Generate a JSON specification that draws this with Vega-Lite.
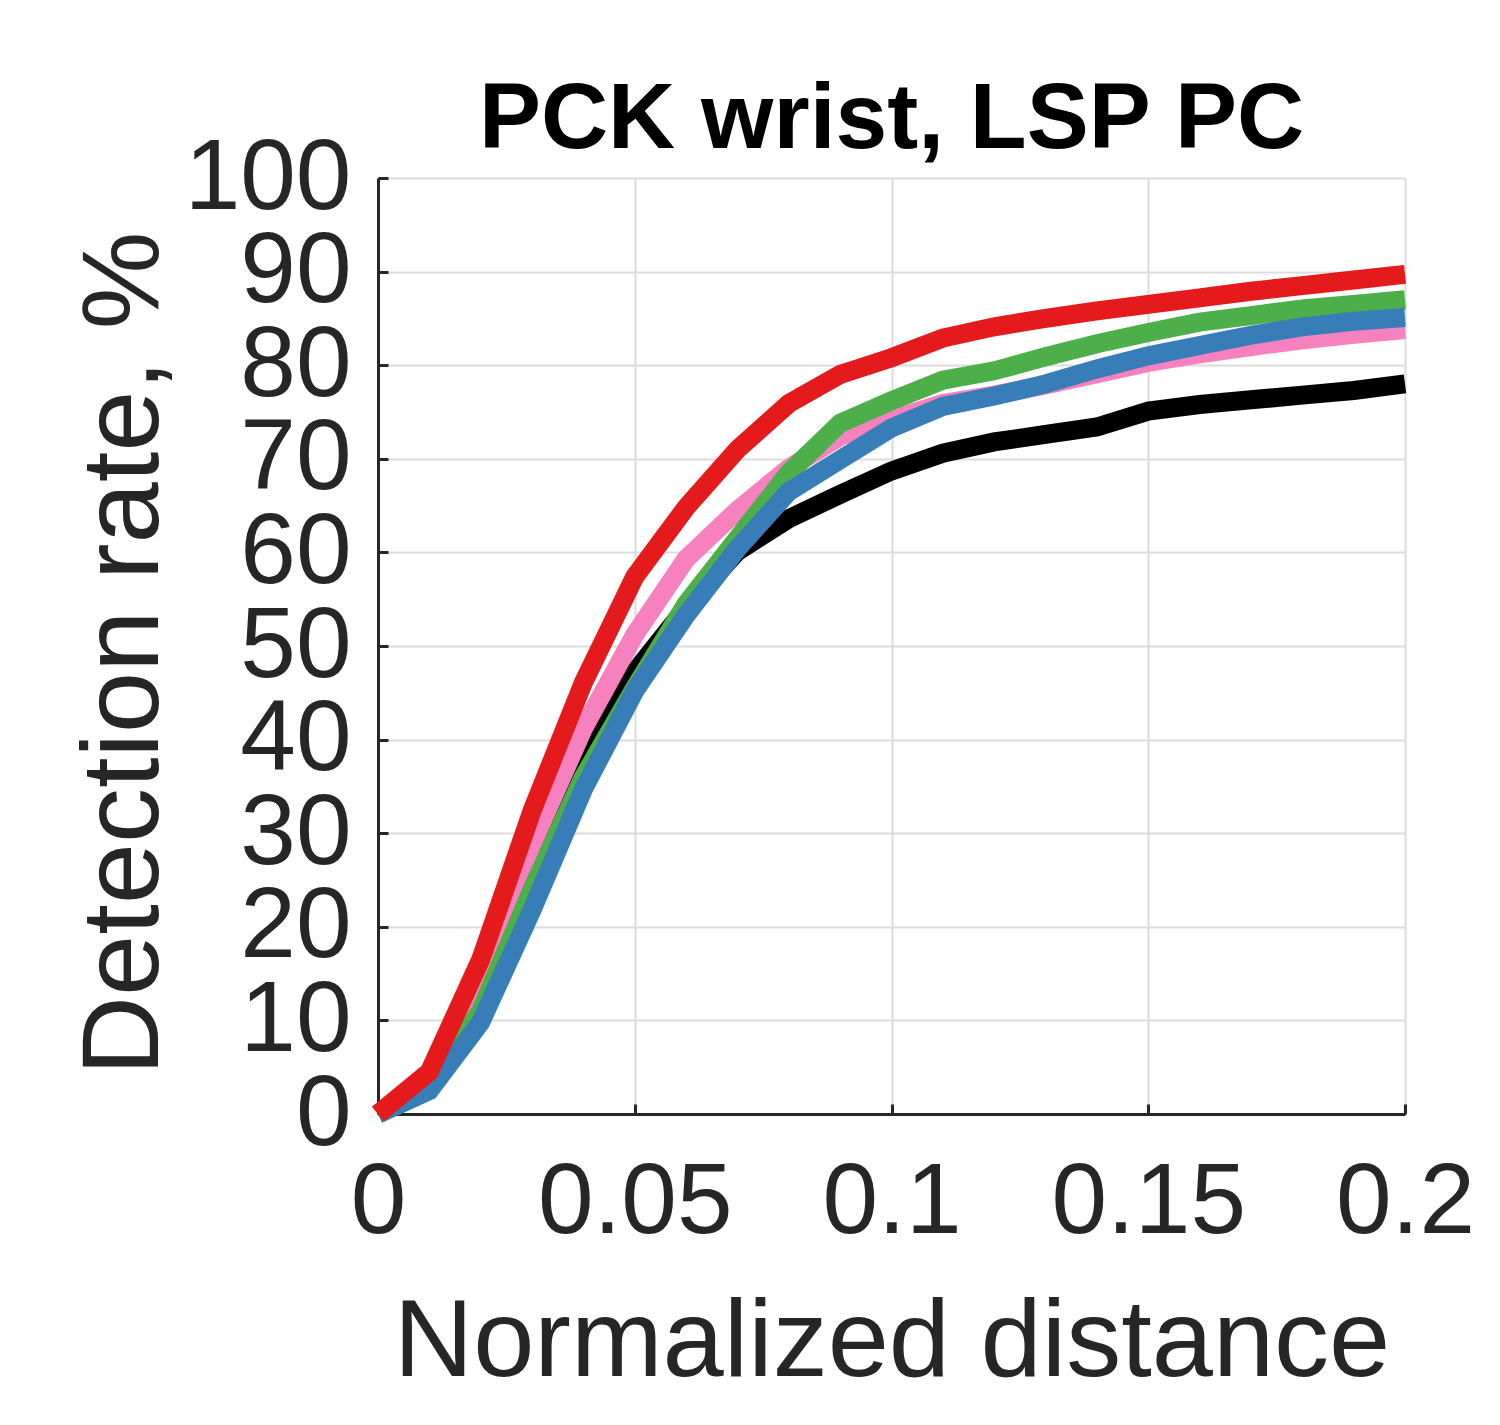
{
  "$schema": "https://vega.github.io/schema/vega-lite/v6.json",
  "autosize": {"type": "none"},
  "padding": {"left": 378, "top": 178, "right": 95, "bottom": 311},
  "width": 1027,
  "height": 936,
  "background": "white",
  "config": {
    "view": {"stroke": null},
    "font": "Liberation Sans"
  },
  "title": {
    "text": "PCK wrist, LSP PC",
    "font": "Liberation Sans",
    "fontSize": 93,
    "fontWeight": "bold",
    "color": "#000000",
    "anchor": "middle",
    "frame": "group",
    "baseline": "alphabetic",
    "offset": 30,
    "dy": 143
  },
  "data": {
    "values": [
      {"s": "black", "x": 0, "y": 0}, {"s": "black", "x": 0.01, "y": 3.5}, {"s": "black", "x": 0.02, "y": 13.0},
      {"s": "black", "x": 0.03, "y": 26.0}, {"s": "black", "x": 0.04, "y": 38.2}, {"s": "black", "x": 0.05, "y": 47.2},
      {"s": "black", "x": 0.06, "y": 54.1}, {"s": "black", "x": 0.07, "y": 60.1}, {"s": "black", "x": 0.08, "y": 63.6},
      {"s": "black", "x": 0.09, "y": 66.2}, {"s": "black", "x": 0.1, "y": 68.7}, {"s": "black", "x": 0.11, "y": 70.6},
      {"s": "black", "x": 0.12, "y": 71.8}, {"s": "black", "x": 0.13, "y": 72.6}, {"s": "black", "x": 0.14, "y": 73.4},
      {"s": "black", "x": 0.15, "y": 75.1}, {"s": "black", "x": 0.16, "y": 75.8}, {"s": "black", "x": 0.17, "y": 76.3},
      {"s": "black", "x": 0.18, "y": 76.8}, {"s": "black", "x": 0.19, "y": 77.3}, {"s": "black", "x": 0.2, "y": 78.0},

      {"s": "pink", "x": 0, "y": 0}, {"s": "pink", "x": 0.01, "y": 4.2}, {"s": "pink", "x": 0.02, "y": 14.6},
      {"s": "pink", "x": 0.03, "y": 28.8}, {"s": "pink", "x": 0.04, "y": 41.2}, {"s": "pink", "x": 0.05, "y": 51.2},
      {"s": "pink", "x": 0.06, "y": 59.3}, {"s": "pink", "x": 0.07, "y": 64.5}, {"s": "pink", "x": 0.08, "y": 69.0},
      {"s": "pink", "x": 0.09, "y": 72.4}, {"s": "pink", "x": 0.1, "y": 74.2}, {"s": "pink", "x": 0.11, "y": 75.9},
      {"s": "pink", "x": 0.12, "y": 76.8}, {"s": "pink", "x": 0.13, "y": 77.9}, {"s": "pink", "x": 0.14, "y": 79.1},
      {"s": "pink", "x": 0.15, "y": 80.3}, {"s": "pink", "x": 0.16, "y": 81.2}, {"s": "pink", "x": 0.17, "y": 82.0},
      {"s": "pink", "x": 0.18, "y": 82.7}, {"s": "pink", "x": 0.19, "y": 83.3}, {"s": "pink", "x": 0.2, "y": 83.8},

      {"s": "green", "x": 0, "y": 0}, {"s": "green", "x": 0.01, "y": 3.2}, {"s": "green", "x": 0.02, "y": 11.0},
      {"s": "green", "x": 0.03, "y": 24.0}, {"s": "green", "x": 0.04, "y": 36.0}, {"s": "green", "x": 0.05, "y": 45.5},
      {"s": "green", "x": 0.06, "y": 54.5}, {"s": "green", "x": 0.07, "y": 61.5}, {"s": "green", "x": 0.08, "y": 68.5},
      {"s": "green", "x": 0.09, "y": 73.8}, {"s": "green", "x": 0.1, "y": 76.2}, {"s": "green", "x": 0.11, "y": 78.4},
      {"s": "green", "x": 0.12, "y": 79.4}, {"s": "green", "x": 0.13, "y": 80.9}, {"s": "green", "x": 0.14, "y": 82.3},
      {"s": "green", "x": 0.15, "y": 83.5}, {"s": "green", "x": 0.16, "y": 84.6}, {"s": "green", "x": 0.17, "y": 85.3},
      {"s": "green", "x": 0.18, "y": 86.0}, {"s": "green", "x": 0.19, "y": 86.5}, {"s": "green", "x": 0.2, "y": 87.0},

      {"s": "blue", "x": 0, "y": 0}, {"s": "blue", "x": 0.01, "y": 2.5}, {"s": "blue", "x": 0.02, "y": 9.8},
      {"s": "blue", "x": 0.03, "y": 21.8}, {"s": "blue", "x": 0.04, "y": 34.7}, {"s": "blue", "x": 0.05, "y": 45.2},
      {"s": "blue", "x": 0.06, "y": 53.3}, {"s": "blue", "x": 0.07, "y": 60.4}, {"s": "blue", "x": 0.08, "y": 66.5},
      {"s": "blue", "x": 0.09, "y": 69.9}, {"s": "blue", "x": 0.1, "y": 73.3}, {"s": "blue", "x": 0.11, "y": 75.6},
      {"s": "blue", "x": 0.12, "y": 76.7}, {"s": "blue", "x": 0.13, "y": 78.0}, {"s": "blue", "x": 0.14, "y": 79.6},
      {"s": "blue", "x": 0.15, "y": 81.0}, {"s": "blue", "x": 0.16, "y": 82.1}, {"s": "blue", "x": 0.17, "y": 83.2},
      {"s": "blue", "x": 0.18, "y": 84.1}, {"s": "blue", "x": 0.19, "y": 84.7}, {"s": "blue", "x": 0.2, "y": 85.1},

      {"s": "red", "x": 0, "y": 0}, {"s": "red", "x": 0.01, "y": 4.5}, {"s": "red", "x": 0.02, "y": 16.5},
      {"s": "red", "x": 0.03, "y": 32.4}, {"s": "red", "x": 0.04, "y": 46.1}, {"s": "red", "x": 0.05, "y": 57.4},
      {"s": "red", "x": 0.06, "y": 64.8}, {"s": "red", "x": 0.07, "y": 71.0}, {"s": "red", "x": 0.08, "y": 75.9},
      {"s": "red", "x": 0.09, "y": 79.0}, {"s": "red", "x": 0.1, "y": 80.8}, {"s": "red", "x": 0.11, "y": 82.9},
      {"s": "red", "x": 0.12, "y": 84.1}, {"s": "red", "x": 0.13, "y": 85.0}, {"s": "red", "x": 0.14, "y": 85.8},
      {"s": "red", "x": 0.15, "y": 86.5}, {"s": "red", "x": 0.16, "y": 87.2}, {"s": "red", "x": 0.17, "y": 87.9},
      {"s": "red", "x": 0.18, "y": 88.5}, {"s": "red", "x": 0.19, "y": 89.1}, {"s": "red", "x": 0.2, "y": 89.7}
    ]
  },
  "encoding": {
    "x": {
      "field": "x",
      "type": "quantitative",
      "scale": {"domain": [0, 0.2], "nice": false},
      "axis": {
        "title": "Normalized distance",
        "values": [0, 0.05, 0.1, 0.15, 0.2],
        "format": "~g",
        "grid": true,
        "gridColor": "#dcdcdc",
        "gridWidth": 2,
        "domainColor": "#262626",
        "domainWidth": 3,
        "tickColor": "#262626",
        "tickWidth": 3,
        "tickSize": -10,
        "labelFont": "Liberation Sans",
        "labelFontSize": 100,
        "labelColor": "#262626",
        "labelPadding": 49,
        "labelLimit": 0,
        "labelFlush": false,
        "labelOverlap": false,
        "titleFont": "Liberation Sans",
        "titleFontSize": 110,
        "titleFontWeight": "normal",
        "titleColor": "#262626",
        "titleBaseline": "alphabetic",
        "titleY": 261
      }
    },
    "y": {
      "field": "y",
      "type": "quantitative",
      "scale": {"domain": [0, 100], "nice": false},
      "axis": {
        "title": "Detection rate, %",
        "values": [0, 10, 20, 30, 40, 50, 60, 70, 80, 90, 100],
        "format": "d",
        "grid": true,
        "gridColor": "#dcdcdc",
        "gridWidth": 2,
        "domainColor": "#262626",
        "domainWidth": 3,
        "tickColor": "#262626",
        "tickWidth": 3,
        "tickSize": -10,
        "labelFont": "Liberation Sans",
        "labelFontSize": 100,
        "labelColor": "#262626",
        "labelPadding": 37,
        "labelLimit": 0,
        "labelFlush": false,
        "labelOverlap": false,
        "titleFont": "Liberation Sans",
        "titleFontSize": 110,
        "titleFontWeight": "normal",
        "titleColor": "#262626",
        "titleAngle": 270,
        "titleBaseline": "alphabetic",
        "titleX": -221,
        "titleY": 475
      }
    }
  },
  "layer": [
    {
      "transform": [{"filter": "datum.s === 'black'"}],
      "mark": {"type": "line", "color": "#000000", "strokeWidth": 19, "clip": false}
    },
    {
      "transform": [{"filter": "datum.s === 'pink'"}],
      "mark": {"type": "line", "color": "#F781BF", "strokeWidth": 19, "clip": false}
    },
    {
      "transform": [{"filter": "datum.s === 'green'"}],
      "mark": {"type": "line", "color": "#4DAF4A", "strokeWidth": 19, "clip": false}
    },
    {
      "transform": [{"filter": "datum.s === 'blue'"}],
      "mark": {"type": "line", "color": "#377EB8", "strokeWidth": 19, "clip": false}
    },
    {
      "transform": [{"filter": "datum.s === 'red'"}],
      "mark": {"type": "line", "color": "#E41A1C", "strokeWidth": 19, "clip": false}
    }
  ]
}
